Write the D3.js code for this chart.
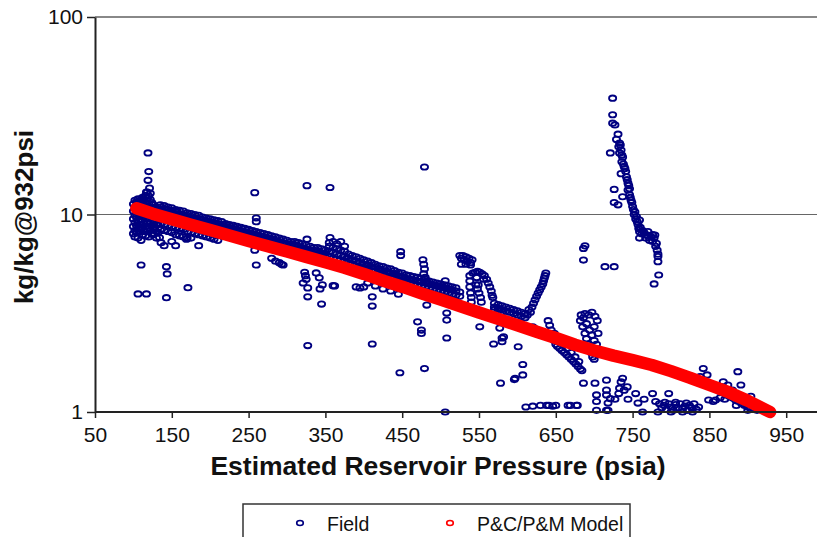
<!DOCTYPE html>
<html lang="en">
<head>
  <meta charset="UTF-8">
  <title>Field vs P&C/P&M Model</title>
  <script src="https://d3js.org/d3.v7.min.js"></script>
  <style>
    body { margin: 0; background: #fff; }
    text { font-family: "Liberation Sans", Arial, sans-serif; fill: #111; }
  </style>
</head>
<body>
  <svg id="chart" width="817" height="537"></svg>

  <script>
    // Axis ticks
    const xTicks = [50, 150, 250, 350, 450, 550, 650, 750, 850, 950];
    const yTicks = [1, 10, 100];

    // Field data: each row is [pressure (psia), ratio, ratio, ...]
    const fieldEarly = [
      [100, 11.3, 10.4, 9.5, 8.7, 8.0],
      [102, 11.8, 10.9, 9.9, 9.1, 8.3, 7.7],
      [104, 11.6, 10.6, 9.7, 8.8, 8.1],
      [106, 12.0, 11.1, 10.2, 9.3, 8.5, 7.6, 3.96],
      [108, 11.7, 10.8, 9.8, 8.9, 8.2],
      [110, 11.9, 11.0, 10.0, 9.2, 8.4, 7.4, 5.55],
      [112, 12.2, 11.3, 10.3, 9.4, 8.6, 7.9],
      [114, 11.8, 10.9, 9.9, 9.0, 8.2],
      [116, 12.5, 11.5, 10.5, 9.6, 8.7, 7.8],
      [117, 13.0, 3.96],
      [118, 13.0, 12.1, 11.0, 10.1, 9.2, 8.4],
      [119, 20.5, 14.9],
      [120, 16.5, 12.4, 11.4, 10.4, 9.5, 8.6, 7.7],
      [121, 13.6],
      [122, 12.8, 11.9, 10.9, 10.0, 9.1, 8.3],
      [124, 11.5, 10.6, 9.7, 8.8, 8.0],
      [126, 11.2, 10.3, 9.4, 8.6, 7.9],
      [128, 10.9, 10.1, 9.2, 8.4],
      [130, 10.8, 9.9, 9.0, 8.2, 7.6],
      [132, 10.6, 9.7, 8.9, 8.1]
    ];

    const fieldBand = [
      [134, 7.65], [136, 7.2], [140, 6.95], [143, 5.44, 3.79], [144, 5.0], [150, 7.3],
      [155, 6.95], [169, 7.5], [171, 4.26], [185, 6.95],
      [135, 10.5, 10.9, 11.2, 9.0, 8.4],
      [140, 10.3, 10.7, 11.1, 8.9, 8.3],
      [145, 10.2, 10.6, 10.9, 8.8, 8.2],
      [150, 10.0, 10.4, 10.8, 8.7, 8.1],
      [155, 9.9, 10.3, 10.6, 8.6, 7.9],
      [160, 9.8, 10.1, 10.5, 8.5, 7.8],
      [165, 9.6, 10.0, 10.4, 8.4, 7.7],
      [170, 9.5, 9.9, 10.2, 8.2, 7.6],
      [175, 9.4, 9.8, 10.1, 8.1, 7.6],
      [180, 9.3, 9.6, 10.0, 8.0],
      [185, 9.2, 9.5, 9.9, 7.9],
      [190, 9.1, 9.4, 9.7, 7.8],
      [195, 8.9, 9.3, 9.6, 7.7],
      [200, 8.8, 9.2, 9.5, 7.6],
      [205, 8.7, 9.1, 9.4, 7.5],
      [210, 8.6, 9.0, 9.3, 7.4],
      [215, 8.5, 8.8, 9.2],
      [220, 8.4, 8.7, 9.0],
      [225, 8.3, 8.6, 8.9],
      [230, 8.2, 8.5, 8.8],
      [235, 8.1, 8.4, 8.7],
      [240, 8.0, 8.3, 8.6],
      [245, 7.9, 8.2, 8.5],
      [250, 7.8, 8.1, 8.4],
      [255, 7.7, 8.0, 8.3],
      [258, 12.9, 6.6],
      [260, 7.6, 7.9, 8.2, 9.2, 9.6, 5.55],
      [265, 7.5, 7.8, 8.1],
      [270, 7.4, 7.7, 8.0],
      [275, 7.3, 7.6, 7.9],
      [280, 7.2, 7.5, 7.8, 6.0],
      [285, 7.1, 7.4, 7.7, 5.8],
      [290, 7.05, 7.3, 7.6, 5.7],
      [293, 5.6], [295, 7.0, 7.2, 7.5, 5.55],
      [300, 6.9, 7.1, 7.4],
      [305, 6.8, 7.1, 7.3],
      [310, 6.7, 7.0, 7.3],
      [315, 6.6, 6.9, 7.2],
      [320, 6.55, 6.8, 7.1],
      [325, 6.5, 6.7, 7.0],
      [330, 6.4, 6.6, 6.9],
      [335, 6.3, 6.6, 6.8],
      [340, 6.25, 6.5, 6.8],
      [345, 6.2, 6.4, 6.7],
      [350, 6.1, 6.35, 6.6]
    ];

    const fieldMid = [
      [355, 6.1, 6.5, 6.9, 7.2],
      [360, 6.0, 6.4, 6.8, 7.3],
      [365, 5.95, 6.3, 6.7, 7.1],
      [370, 5.9, 6.2, 6.6, 7.3],
      [375, 5.8, 6.1, 6.5, 6.9],
      [380, 5.7, 6.0, 6.3],
      [385, 5.6, 5.9, 6.2],
      [390, 5.5, 5.8, 6.1, 4.3],
      [395, 5.45, 5.7, 6.0, 4.25],
      [400, 5.4, 5.6, 5.9, 4.3],
      [405, 5.3, 5.55, 5.8, 4.5],
      [410, 5.2, 5.45, 5.7],
      [415, 5.15, 5.4, 5.6, 4.35],
      [420, 5.05, 5.3, 5.5],
      [425, 5.0, 5.2, 5.45, 4.2],
      [430, 4.9, 5.15, 5.35],
      [435, 4.85, 5.05, 5.3, 4.1],
      [440, 4.75, 5.0, 5.2],
      [445, 4.7, 4.9, 5.1, 3.95],
      [450, 4.6, 4.85, 5.05],
      [455, 4.55, 4.75, 4.95],
      [460, 4.5, 4.7, 4.9],
      [465, 4.45, 4.65, 4.85],
      [470, 4.4, 4.6, 4.8],
      [475, 4.35, 4.55, 4.75],
      [477, 5.9], [478, 5.6, 5.0], [479, 5.3], [480, 4.3, 4.5, 4.7, 4.8], [481, 4.6],
      [485, 4.25, 4.45, 4.6],
      [490, 4.2, 4.4, 4.55],
      [495, 4.15, 4.35, 4.5],
      [500, 4.1, 4.3, 4.45],
      [505, 4.05, 4.25, 4.4],
      [510, 4.0, 4.2, 4.35],
      [515, 3.95, 4.15, 4.3],
      [520, 3.9, 4.1, 4.25],
      [525, 3.85, 4.05, 6.2],
      [527, 6.0, 5.6], [529, 6.2], [531, 5.9], [533, 6.1, 5.6], [535, 5.8],
      [537, 6.0], [539, 5.7, 5.55], [541, 5.9],
      [538, 4.9, 4.6, 4.3], [539, 4.0], [540, 3.8, 3.6],
      [542, 5.05], [545, 5.1], [546, 4.4], [547, 4.8], [548, 5.15, 4.2],
      [549, 4.4], [550, 4.0], [551, 5.1], [552, 3.8], [553, 3.6], [554, 5.0],
      [556, 4.7], [557, 4.9], [560, 4.7], [562, 4.5], [564, 4.3], [566, 4.1],
      [567, 3.9], [568, 3.8],
      [570, 3.4, 3.55, 3.3],
      [575, 3.35, 3.5, 3.25],
      [580, 3.3, 3.45, 3.2],
      [585, 3.25, 3.4],
      [590, 3.2, 3.35],
      [595, 3.15, 3.3],
      [600, 3.1, 3.25],
      [605, 3.05, 3.2],
      [610, 3.0, 3.15],
      [613, 3.1], [615, 3.3], [617, 3.2], [619, 3.4], [621, 3.55], [623, 3.7],
      [625, 3.85], [627, 4.0], [629, 4.15], [631, 4.3], [633, 4.45], [634, 4.6],
      [635, 4.75], [636, 4.9], [637, 5.05],
      [620, 2.7], [622, 2.65], [626, 2.6], [630, 2.55], [634, 2.5], [638, 2.45]
    ];

    const fieldLate = [
      [640, 2.9], [642, 2.75], [644, 2.6], [646, 2.45], [648, 2.3, 2.5], [650, 2.2],
      [652, 2.15, 2.3], [655, 2.1], [658, 2.05], [660, 2.2], [661, 2.0], [664, 1.95],
      [665, 2.1], [667, 1.9], [670, 1.85, 2.0], [673, 1.8], [675, 1.9], [676, 1.75],
      [679, 1.7], [680, 1.8], [682, 1.65, 2.9], [684, 1.62],
      [683, 3.1], [685, 2.7], [686, 3.0], [688, 2.5, 3.15], [690, 2.35, 2.8],
      [692, 2.2], [693, 3.1], [694, 2.1, 2.6], [696, 2.0], [697, 2.45, 3.2],
      [698, 1.9], [700, 1.85, 2.3, 2.7], [701, 3.05], [703, 2.2], [704, 2.9], [705, 2.5]
    ];

    const fieldSpike = [
      [724, 38.8, 32.0, 29.0], [727, 28.4], [729, 24.0], [731, 25.5, 11.2], [732, 22.0],
      [733, 23.0, 20.5], [734, 22.5], [735, 21.2, 16.1], [736, 20.0, 18.5],
      [737, 19.5, 12.3], [738, 18.0], [739, 17.5], [740, 17.1], [741, 16.5],
      [742, 15.5], [743, 15.0], [744, 14.4, 13.3], [745, 14.0], [746, 12.6, 13.5],
      [747, 12.2], [748, 11.8], [749, 11.5], [750, 10.97], [751, 10.6], [752, 10.0],
      [753, 10.3], [754, 9.5], [755, 9.76], [756, 9.2], [757, 8.9], [758, 8.5],
      [759, 9.37, 7.6, 8.17], [760, 8.6], [762, 8.0], [763, 8.3], [765, 8.1],
      [767, 7.6], [768, 7.87], [770, 7.8, 8.2], [772, 7.4], [774, 7.7], [776, 7.3, 7.9],
      [778, 7.6, 4.45], [779, 7.87], [780, 6.9], [781, 7.14], [782, 6.6],
      [783, 6.3, 6.13, 5.77], [784, 4.94], [721, 20.5], [726, 13.4, 11.5, 5.44]
    ];

    const fieldTail = [
      [785, 1.1], [788, 1.05], [791, 1.08], [792, 1.12], [794, 1.03], [797, 1.1, 1.24],
      [800, 1.06, 1.0], [803, 1.02], [806, 1.09, 1.12], [809, 1.05], [812, 1.1],
      [815, 1.04, 1.0], [818, 1.07], [820, 1.11], [821, 1.02], [824, 1.08], [827, 1.05],
      [828, 1.0], [830, 1.1], [833, 1.03], [836, 1.06],
      [838, 1.51], [842, 1.66], [847, 1.54], [849, 1.15], [855, 1.13], [858, 1.15],
      [860, 1.3], [864, 1.27, 1.18], [866, 1.34], [868, 1.25, 1.42], [870, 1.16],
      [872, 1.22], [874, 1.3, 1.37], [876, 1.2], [880, 1.18, 1.29], [882, 1.25],
      [884, 1.15], [885, 1.08], [887, 1.6], [888, 1.13], [890, 1.2], [891, 1.37],
      [892, 1.1], [896, 1.08], [898, 1.15, 1.1], [900, 1.06, 1.02], [904, 1.04, 1.2],
      [906, 1.1], [908, 1.03], [912, 1.02], [914, 1.05]
    ];

    const fieldScatter = [
      [326, 14.0, 7.5], [356, 13.7, 7.65], [479, 17.4, 1.66], [327, 2.17],
      [321, 4.5], [323, 5.1], [324, 4.9], [325, 4.7], [327, 4.25, 3.83],
      [338, 5.06], [342, 4.78], [343, 4.2], [345, 3.52], [346, 4.4], [360, 4.36],
      [362, 4.35], [411, 3.83, 3.44, 2.21], [434, 5.07], [447, 1.58], [448, 6.48, 6.2],
      [470, 2.86], [475, 2.6, 2.5], [482, 3.48], [506, 4.62, 1.0], [508, 3.17, 2.92, 2.37],
      [551, 2.7], [569, 2.21], [577, 2.66], [578, 1.4], [580, 2.37, 2.27], [582, 2.4],
      [596, 1.46], [597, 1.48], [601, 2.14], [607, 1.74, 1.54],
      [611, 1.06], [620, 1.07], [630, 1.08], [638, 1.08], [641, 1.08], [646, 1.07],
      [650, 1.08], [666, 1.08], [669, 1.08], [677, 1.08], [678, 1.08],
      [686, 6.73, 5.88, 1.4], [688, 6.94], [701, 1.4], [703, 1.22, 1.13, 1.02],
      [714, 5.44], [716, 1.45, 1.29, 1.22, 1.02], [718, 1.11, 1.02], [721, 1.17],
      [727, 1.16], [732, 1.24], [733, 1.32], [735, 1.42], [737, 1.48], [739, 1.29],
      [743, 1.34], [744, 1.16], [754, 1.24], [757, 1.11], [763, 1.0], [765, 1.16],
      [776, 1.24], [780, 1.13], [783, 1.0]
    ];

    // P&C/P&M model curve
    const modelPressure = [104, 125, 150, 175, 200, 225, 250, 275, 300, 325, 350, 375, 400,
      425, 450, 475, 500, 525, 550, 575, 600, 625, 650, 675, 700, 725, 750, 775, 800,
      825, 850, 875, 900, 929];
    const modelRatio = [10.75, 10.1, 9.46, 8.87, 8.34, 7.83, 7.35, 6.9, 6.49, 6.1, 5.73,
      5.37, 5.0, 4.63, 4.31, 3.99, 3.71, 3.44, 3.19, 2.96, 2.75, 2.55, 2.37, 2.19, 2.05,
      1.93, 1.83, 1.73, 1.61, 1.49, 1.37, 1.26, 1.14, 1.0];

    const field = [fieldEarly, fieldBand, fieldMid, fieldLate, fieldSpike, fieldTail, fieldScatter]
      .flat()
      .flatMap(r => r.slice(1).map(v => [r[0], v]));
    const model = modelPressure.map((p, i) => [p, modelRatio[i]]);

    const svg = d3.select('#chart');
    const plotLeft = 95, plotTop = 17, plotBottom = 412;

    const x = d3.scaleLinear().domain([50, 1000]).range([plotLeft, plotLeft + 950 * 0.768]);
    const y = d3.scaleLog().domain([1, 100]).range([plotBottom, plotTop]);

    // Gridlines at 10 and 100
    svg.append('g').selectAll('line')
      .data(yTicks.slice(1))
      .enter().append('line')
      .attr('x1', plotLeft).attr('x2', 817)
      .attr('y1', d => y(d)).attr('y2', d => y(d))
      .style('stroke', d => d === 100 ? '#888' : '#666')
      .style('stroke-width', d => d === 100 ? 2 : 1.2);

    // Field points
    svg.append('g').selectAll('ellipse')
      .data(field)
      .enter().append('ellipse')
      .attr('cx', d => x(d[0]))
      .attr('cy', d => y(d[1]))
      .attr('rx', 3.6).attr('ry', 2.7)
      .style('fill', 'none')
      .style('stroke', '#000080')
      .style('stroke-width', 1.8);

    // Model band
    svg.append('path')
      .datum(model)
      .attr('d', d3.line().x(d => x(d[0])).y(d => y(d[1])))
      .style('fill', 'none')
      .style('stroke', '#ff0000')
      .style('stroke-width', 12.5)
      .style('stroke-linecap', 'round')
      .style('stroke-linejoin', 'round');

    // X axis
    const xAxis = svg.append('g')
      .attr('transform', `translate(0,${plotBottom})`)
      .call(d3.axisBottom(x).tickValues(xTicks).tickSize(6).tickSizeOuter(0).tickFormat(d3.format('d')));
    xAxis.select('.domain').attr('d', `M${plotLeft},0H817`).style('stroke', '#222').style('stroke-width', 2);
    xAxis.selectAll('.tick line').style('stroke', '#222').style('stroke-width', 1.5);
    xAxis.selectAll('.tick text')
      .attr('y', 15)
      .style('font-size', '21px')
      .style('font-family', '"Liberation Sans", Arial, sans-serif')
      .style('fill', '#111');

    // Y axis
    const yAxis = svg.append('g')
      .attr('transform', `translate(${plotLeft},0)`)
      .call(d3.axisLeft(y).tickValues(yTicks).tickSize(8).tickSizeOuter(0).tickFormat(d3.format('d')));
    yAxis.select('.domain').style('stroke', '#222').style('stroke-width', 2);
    yAxis.selectAll('.tick line').style('stroke', '#222').style('stroke-width', 1.5);
    yAxis.selectAll('.tick text')
      .attr('x', -12)
      .style('font-size', '21px')
      .style('font-family', '"Liberation Sans", Arial, sans-serif')
      .style('fill', '#111');

    // Axis titles
    svg.append('text')
      .attr('x', 438).attr('y', 475)
      .attr('text-anchor', 'middle')
      .style('font-size', '26.5px').style('font-weight', 'bold')
      .text('Estimated Reservoir Pressure (psia)');

    svg.append('text')
      .attr('transform', 'translate(33,217) rotate(-90)')
      .attr('text-anchor', 'middle')
      .style('font-size', '26px').style('font-weight', 'bold')
      .text('kg/kg@932psi');

    // Legend
    const legend = svg.append('g');
    legend.append('rect')
      .attr('x', 243).attr('y', 504).attr('width', 387).attr('height', 60)
      .style('fill', '#fff').style('stroke', '#333').style('stroke-width', 1.5);
    const items = [
      { label: 'Field', color: '#000080', mx: 300, tx: 327 },
      { label: 'P&C/P&M Model', color: '#ff0000', mx: 450, tx: 477 }
    ];
    items.forEach(it => {
      legend.append('ellipse')
        .attr('cx', it.mx).attr('cy', 523).attr('rx', 3.3).attr('ry', 2.5)
        .style('fill', 'none').style('stroke', it.color).style('stroke-width', 1.6);
      legend.append('text')
        .attr('x', it.tx).attr('y', 531)
        .style('font-size', '19.5px')
        .text(it.label);
    });
  </script>
</body>
</html>
